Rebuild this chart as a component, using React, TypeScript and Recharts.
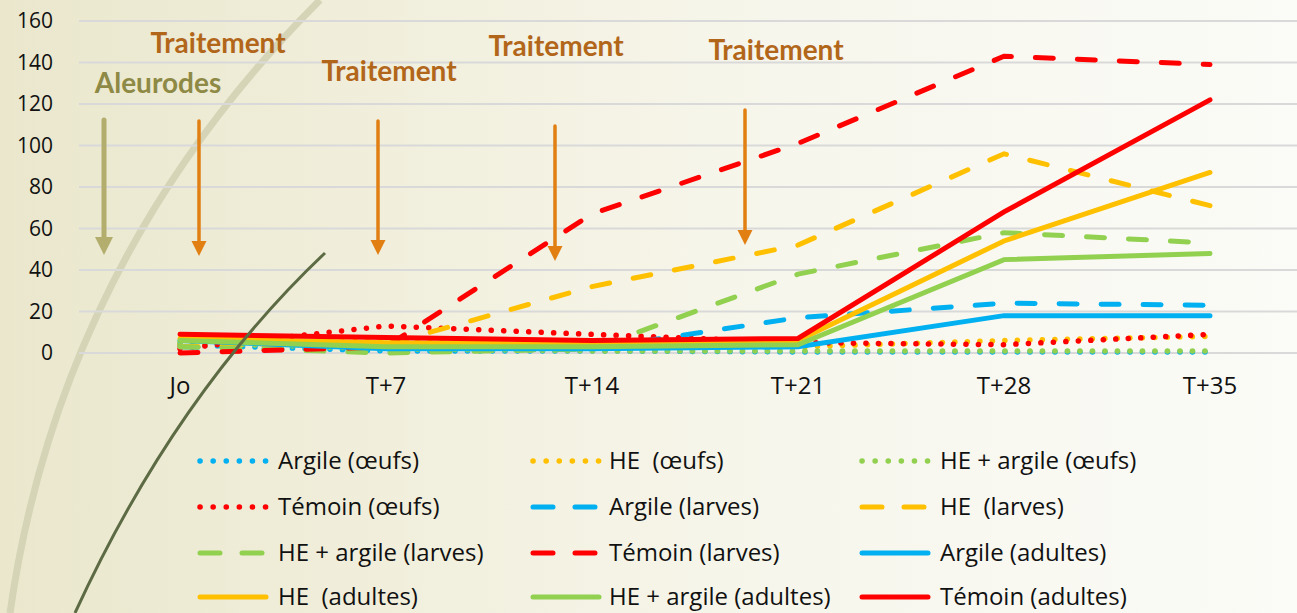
import React from 'react';
import { LineChart, Line, XAxis, YAxis, CartesianGrid, Legend } from 'recharts';

const categories = ['Jo', 'T+7', 'T+14', 'T+21', 'T+28', 'T+35'];
const yTicks = [0, 20, 40, 60, 80, 100, 120, 140, 160];

// œufs
const argileOeufs = [4, 1, 1, 0.5, 0.5, 0.5];
const heOeufs = [4, 6, 5, 3, 6, 8];
const heArgileOeufs = [5, 2, 1, 1, 1, 1];
const temoinOeufs = [2, 13, 9, 5, 4, 9];
// larves
const argileLarves = [3, 1, 2, 17, 24, 23];
const heLarves = [3, 4, 32, 52, 96, 71];
const heArgileLarves = [3, 0, 2, 38, 58, 53];
const temoinLarves = [0, 3, 67, 101, 143, 139];
// adultes
const argileAdultes = [6, 2, 2, 3, 18, 18];
const heAdultes = [7, 5, 4, 6, 54, 87];
const heArgileAdultes = [6, 3, 3, 4, 45, 48];
const temoinAdultes = [9, 7.5, 6, 7, 68, 122];

const BLUE = '#00b0f0';
const YELLOW = '#ffc000';
const GREEN = '#92d050';
const RED = '#ff0000';

type Kind = 'dot' | 'dash' | 'solid';

const series: { key: string; name: string; color: string; kind: Kind; values: number[] }[] = [
  { key: 'ao', name: 'Argile (œufs)', color: BLUE, kind: 'dot', values: argileOeufs },
  { key: 'ho', name: 'HE  (œufs)', color: YELLOW, kind: 'dot', values: heOeufs },
  { key: 'hao', name: 'HE + argile (œufs)', color: GREEN, kind: 'dot', values: heArgileOeufs },
  { key: 'to', name: 'Témoin (œufs)', color: RED, kind: 'dot', values: temoinOeufs },
  { key: 'al', name: 'Argile (larves)', color: BLUE, kind: 'dash', values: argileLarves },
  { key: 'hl', name: 'HE  (larves)', color: YELLOW, kind: 'dash', values: heLarves },
  { key: 'hal', name: 'HE + argile (larves)', color: GREEN, kind: 'dash', values: heArgileLarves },
  { key: 'tl', name: 'Témoin (larves)', color: RED, kind: 'dash', values: temoinLarves },
  { key: 'aa', name: 'Argile (adultes)', color: BLUE, kind: 'solid', values: argileAdultes },
  { key: 'ha', name: 'HE  (adultes)', color: YELLOW, kind: 'solid', values: heAdultes },
  { key: 'haa', name: 'HE + argile (adultes)', color: GREEN, kind: 'solid', values: heArgileAdultes },
  { key: 'ta', name: 'Témoin (adultes)', color: RED, kind: 'solid', values: temoinAdultes },
];

const data = categories.map((c, i) => {
  const row: Record<string, any> = { name: c };
  series.forEach((s) => (row[s.key] = s.values[i]));
  return row;
});

const dashFor = (kind: Kind) => (kind === 'dot' ? '0.1 12.4' : kind === 'dash' ? '18 24' : undefined);

const FONT = '"Open Sans", sans-serif';
const BOLD_FONT = 'Lato, sans-serif';

// legend grid: 3 columns x 4 rows
const LEGEND_TOP = 430;
const colIcon = [200, 533, 862];
const colText = [278, 609, 940];
const rowY = [461, 507, 553, 597];

const CustomLegend = () => (
  <svg width={1297} height={183} style={{ display: 'block' }}>
    {series.map((s, i) => {
      const col = i % 3;
      const row = Math.floor(i / 3);
      const y = rowY[row] - LEGEND_TOP;
      const x0 = colIcon[col];
      return (
        <g key={s.key}>
          <line
            x1={x0}
            x2={x0 + 66}
            y1={y}
            y2={y}
            stroke={s.color}
            strokeWidth={s.kind === 'dot' ? 5.5 : 5}
            strokeLinecap="round"
            strokeDasharray={s.kind === 'dot' ? '0.1 13' : s.kind === 'dash' ? '20 22' : undefined}
          />
          <text
            x={colText[col]}
            y={y + 8}
            fontFamily={FONT}
            fontSize={24}
            fill="#111"
            xmlSpace="preserve"
            style={{ whiteSpace: 'pre' }}
          >
            {s.name}
          </text>
        </g>
      );
    })}
  </svg>
);

const arrows = [
  { x: 104, y1: 120, y2: 255, color: '#b3ae6d', w: 5, head: 18 },
  { x: 199, y1: 121, y2: 256, color: '#e17f13', w: 3.5, head: 15 },
  { x: 378, y1: 121, y2: 255, color: '#e17f13', w: 3.5, head: 15 },
  { x: 555, y1: 126, y2: 261, color: '#e17f13', w: 3.5, head: 15 },
  { x: 745, y1: 110, y2: 245, color: '#e17f13', w: 3.5, head: 15 },
];

const labels = [
  { text: 'Traitement', x: 218, y: 53, color: '#b2661a' },
  { text: 'Traitement', x: 389, y: 81, color: '#b2661a' },
  { text: 'Traitement', x: 556, y: 56, color: '#b2661a' },
  { text: 'Traitement', x: 776, y: 60, color: '#b2661a' },
  { text: 'Aleurodes', x: 158, y: 93, color: '#8e8a46' },
];

export default function App() {
  return (
    <div
      style={{
        position: 'fixed',
        left: 0,
        top: 0,
        width: 1297,
        height: 613,
        overflow: 'hidden',
        background: 'linear-gradient(90deg, #eae7cd 0%, #f1efdc 30%, #f7f6ec 60%, #fbfbf7 100%)',
      }}
    >
      <svg width={1297} height={613} style={{ position: 'absolute', left: 0, top: 0 }}>
        <path d="M 320 0 Q 60 260 10 613" fill="none" stroke="#d5d4b6" strokeWidth={7} />
      </svg>
      <div style={{ position: 'absolute', left: 0, top: 0 }}>
        <LineChart width={1297} height={613} data={data} margin={{ top: 21, right: 0, left: 0, bottom: 220 }}>
          <CartesianGrid vertical={false} stroke="#d9d9d9" strokeWidth={2} />
          <XAxis
            dataKey="name"
            scale="point"
            padding={{ left: 101, right: 87 }}
            axisLine={false}
            tickLine={false}
            tickSize={0}
            tickMargin={24}
            height={40}
            interval={0}
            tick={{ fontFamily: FONT, fontSize: 24, fill: '#111' }}
          />
          <YAxis
            domain={[0, 160]}
            ticks={yTicks}
            width={79}
            axisLine={false}
            tickLine={false}
            tickSize={0}
            tickMargin={26}
            interval={0}
            tick={{ fontFamily: FONT, fontSize: 21, fill: '#111' }}
          />
          <Legend
            layout="horizontal"
            verticalAlign="middle"
            align="center"
            wrapperStyle={{ top: LEGEND_TOP, left: 0, width: 1297, height: 183 }}
            content={() => <CustomLegend />}
          />
          {series.map((s) => (
            <Line
              key={s.key}
              dataKey={s.key}
              name={s.name}
              type="linear"
              stroke={s.color}
              strokeWidth={s.kind === 'dot' ? 5.5 : 5}
              strokeDasharray={dashFor(s.kind)}
              strokeLinecap="round"
              dot={false}
              activeDot={false}
              isAnimationActive={false}
            />
          ))}
        </LineChart>
      </div>
      <svg width={1297} height={613} style={{ position: 'absolute', left: 0, top: 0, pointerEvents: 'none' }}>
        <path d="M 325 253 Q 175 395 75 613" fill="none" stroke="#5d6b45" strokeWidth={3} />
        {arrows.map((a, i) => (
          <g key={i}>
            <line x1={a.x} x2={a.x} y1={a.y1} y2={a.y2 - a.head + 2} stroke={a.color} strokeWidth={a.w} strokeLinecap="round" />
            <polygon
              points={`${a.x - a.head / 2},${a.y2 - a.head} ${a.x + a.head / 2},${a.y2 - a.head} ${a.x},${a.y2}`}
              fill={a.color}
            />
          </g>
        ))}
        {labels.map((l, i) => (
          <text
            key={i}
            x={l.x}
            y={l.y}
            textAnchor="middle"
            fontFamily={BOLD_FONT}
            fontWeight={700}
            fontSize={28}
            fill={l.color}
          >
            {l.text}
          </text>
        ))}
      </svg>
    </div>
  );
}
